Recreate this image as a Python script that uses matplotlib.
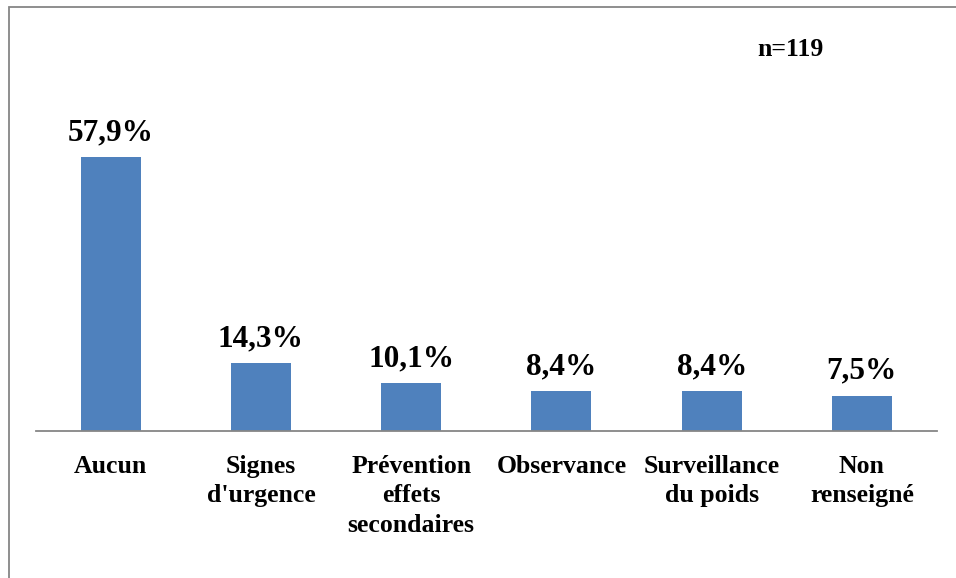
import matplotlib.pyplot as plt
from matplotlib.patches import Rectangle

plt.rcParams['font.family'] = ['Liberation Serif', 'DejaVu Serif']
plt.rcParams['font.weight'] = 'bold'

categories = ['Aucun', "Signes\nd'urgence", 'Prévention\neffets\nsecondaires',
              'Observance', 'Surveillance\ndu poids', 'Non\nrenseigné']
values = [57.9, 14.3, 10.1, 8.4, 8.4, 7.5]
value_labels = ['57,9%', '14,3%', '10,1%', '8,4%', '8,4%', '7,5%']

W, H = 956, 578
fig = plt.figure(figsize=(W / 100, H / 100), dpi=100)

# cadre gris autour du graphique
fig.patches.append(Rectangle((9 / W, -0.1), 1.2, 1 - 7 / H + 0.1, transform=fig.transFigure,
                             fill=False, edgecolor='#868686', linewidth=1.3))

scale = 4.732  # px par %
ymax = 60
ax = fig.add_axes([35.5 / W, 1 - 431 / H, (937 - 35.5) / W, ymax * scale / H])

x = range(len(categories))
ax.bar(x, values, width=0.4, color='#4F81BD')
ax.set_xlim(-0.5, len(categories) - 0.5)
ax.set_ylim(0, ymax)

for xi, v, lab in zip(x, values, value_labels):
    ax.annotate(lab, (xi, v), xytext=(0, 12), textcoords='offset points',
                ha='center', va='baseline', fontsize=22.5, fontweight='bold', annotation_clip=False)

ax.set_xticks(list(x))
ax.set_xticklabels(categories, fontsize=18.5, fontweight='bold', linespacing=1.38)
ax.tick_params(axis='x', length=0, pad=17)
ax.set_yticks([])

for s in ['top', 'right', 'left']:
    ax.spines[s].set_visible(False)
ax.spines['bottom'].set_color('#868686')
ax.spines['bottom'].set_linewidth(1.3)
ax.patch.set_visible(False)

fig.text(790 / W, 1 - 50 / H, 'n=119', ha='center', va='center', fontsize=18.5, fontweight='bold')

fig.savefig('out.png', dpi=100)
